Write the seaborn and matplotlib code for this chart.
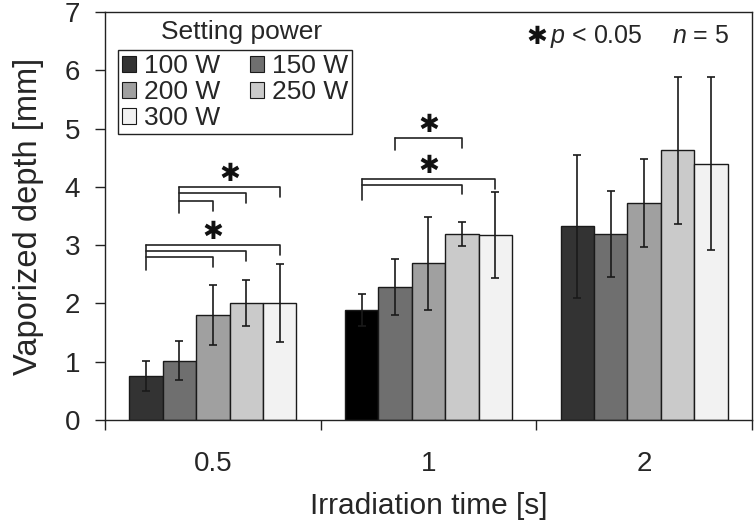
import numpy as np
import pandas as pd
import matplotlib.pyplot as plt
import seaborn as sns

# irradiation times (x categories) and setting powers (hue)
times = ["0.5", "1", "2"]
powers = ["100 W", "150 W", "200 W", "250 W", "300 W"]

# mean vaporized depth [mm] per power, one value per time
mean_100 = [0.76, 1.89, 3.32]
mean_150 = [1.02, 2.29, 3.19]
mean_200 = [1.80, 2.69, 3.72]
mean_250 = [2.01, 3.19, 4.63]
mean_300 = [2.01, 3.17, 4.40]

# standard deviations
sd_100 = [0.26, 0.28, 1.23]
sd_150 = [0.33, 0.48, 0.74]
sd_200 = [0.51, 0.80, 0.76]
sd_250 = [0.39, 0.21, 1.26]
sd_300 = [0.67, 0.74, 1.48]

colors = ["#333333", "#6f6f6f", "#a0a0a0", "#cacaca", "#f2f2f2"]

# significance brackets: time group, left bar, right bars, line levels, left leg bottom
sig_time = ["0.5", "0.5", "1", "1"]
sig_left = [0, 1, 0, 1]
sig_right = [[2, 3, 4], [2, 3, 4], [3, 4], [3]]
sig_levels = [[2.79, 2.90, 3.00], [3.76, 3.89, 4.00], [4.04, 4.14], [4.84]]
sig_bottom = [2.57, 3.55, 3.77, 4.63]

means = [mean_100, mean_150, mean_200, mean_250, mean_300]
sds = [sd_100, sd_150, sd_200, sd_250, sd_300]

df = pd.DataFrame({
    "time": times * len(powers),
    "power": np.repeat(powers, len(times)),
    "depth": np.concatenate(means),
    "sd": np.concatenate(sds),
})

sns.set_style("ticks")
plt.rcParams["font.family"] = ["Liberation Sans", "DejaVu Sans"]
plt.rcParams["mathtext.fontset"] = "custom"
plt.rcParams["mathtext.it"] = "Liberation Sans:italic"
plt.rcParams["mathtext.rm"] = "Liberation Sans"

fig = plt.figure(figsize=(7.54, 5.28), dpi=100)
ax = fig.add_axes([0.1393, 0.2045, 0.9973 - 0.1393, 0.9773 - 0.2045])

group_width = 0.775
sns.barplot(data=df, x="time", y="depth", hue="power", order=times,
            hue_order=powers, palette=colors, width=group_width, gap=0,
            errorbar=None, edgecolor="#1a1a1a", linewidth=1.0, ax=ax)

bw = group_width / len(powers)
offsets = [(j - (len(powers) - 1) / 2) * bw for j in range(len(powers))]

# the 100 W bar at 1 s is drawn pure black in the original
for p in ax.patches:
    cx = p.get_x() + p.get_width() / 2
    if abs(cx - (1 + offsets[0])) < 1e-6:
        p.set_facecolor("black")

# error bars
for j in range(len(powers)):
    xs = [i + offsets[j] for i in range(len(times))]
    ax.errorbar(xs, means[j], yerr=sds[j], fmt="none", ecolor="#1a1a1a",
                elinewidth=1.2, capsize=2.6, capthick=1.2, zorder=5)

# significance brackets
tip = 0.17
for t, left, rights, levels, bottom in zip(sig_time, sig_left, sig_right,
                                           sig_levels, sig_bottom):
    gi = times.index(t)
    xl = gi + offsets[left]
    ax.plot([xl, xl], [bottom, max(levels)], color="#222222", lw=1.2)
    for r, lv in zip(rights, levels):
        xr = gi + offsets[r]
        ax.plot([xl, xr, xr], [lv, lv, lv - tip], color="#222222", lw=1.2)
    xr_max = gi + offsets[max(rights)]
    ax.text((xl + xr_max) / 2, max(levels) + 0.22, "✱", ha="center",
            va="center", fontsize=18, family="DejaVu Sans", color="#111111")

ax.set_xlim(-0.5, 2.5)
ax.set_ylim(0, 7)
ax.set_yticks(range(0, 8))
ax.set_xticks(range(len(times)))
ax.set_xticklabels(times)
ax.set_xticks([-0.5, 0.5, 1.5, 2.5], minor=True)
ax.tick_params(axis="x", which="major", length=0, pad=22, labelsize=20)
ax.tick_params(axis="x", which="minor", length=7, width=1.0, direction="out",
               color="#222222")
ax.tick_params(axis="y", length=7, width=1.0, direction="out", pad=11,
               labelsize=20, color="#222222")

for s in ax.spines.values():
    s.set_visible(True)
    s.set_linewidth(1.0)
    s.set_color("#222222")

ax.set_xlabel("Irradiation time [s]", fontsize=21.5, labelpad=11)
ax.set_ylabel("Vaporized depth [mm]", fontsize=23.5, labelpad=15)

# legend: row-major order with 2 columns, title outside the frame
leg = ax.get_legend()
handles = list(leg.legend_handles)
labels = [tx.get_text() for tx in leg.get_texts()]
leg.remove()
for h in handles:
    h.set_edgecolor("#1a1a1a")
    h.set_linewidth(0.8)
order = [0, 2, 4, 1, 3]
ax.legend([handles[k] for k in order], [labels[k] for k in order], ncol=2,
          loc="upper left", bbox_to_anchor=(0.020, 0.907), borderaxespad=0,
          fontsize=19, handlelength=0.55, handleheight=0.55,
          handletextpad=0.3, columnspacing=1.1, labelspacing=0.08,
          borderpad=0.15, frameon=True, fancybox=False, framealpha=1,
          edgecolor="#222222")
ax.get_legend().get_frame().set_linewidth(1.0)
ax.text(0.2113, 0.9498, "Setting power", transform=ax.transAxes, ha="center",
        va="center", fontsize=19)

# significance note
ax.text(0.668, 0.9395, "✱", transform=ax.transAxes, ha="center", va="center",
        fontsize=18, family="DejaVu Sans", color="#111111")
ax.text(0.6878, 0.924, "$p$ < 0.05", transform=ax.transAxes, ha="left",
        va="baseline", fontsize=18)
ax.text(0.876, 0.924, "$n$ = 5", transform=ax.transAxes, ha="left",
        va="baseline", fontsize=18)

fig.savefig("out.png", dpi=100)
